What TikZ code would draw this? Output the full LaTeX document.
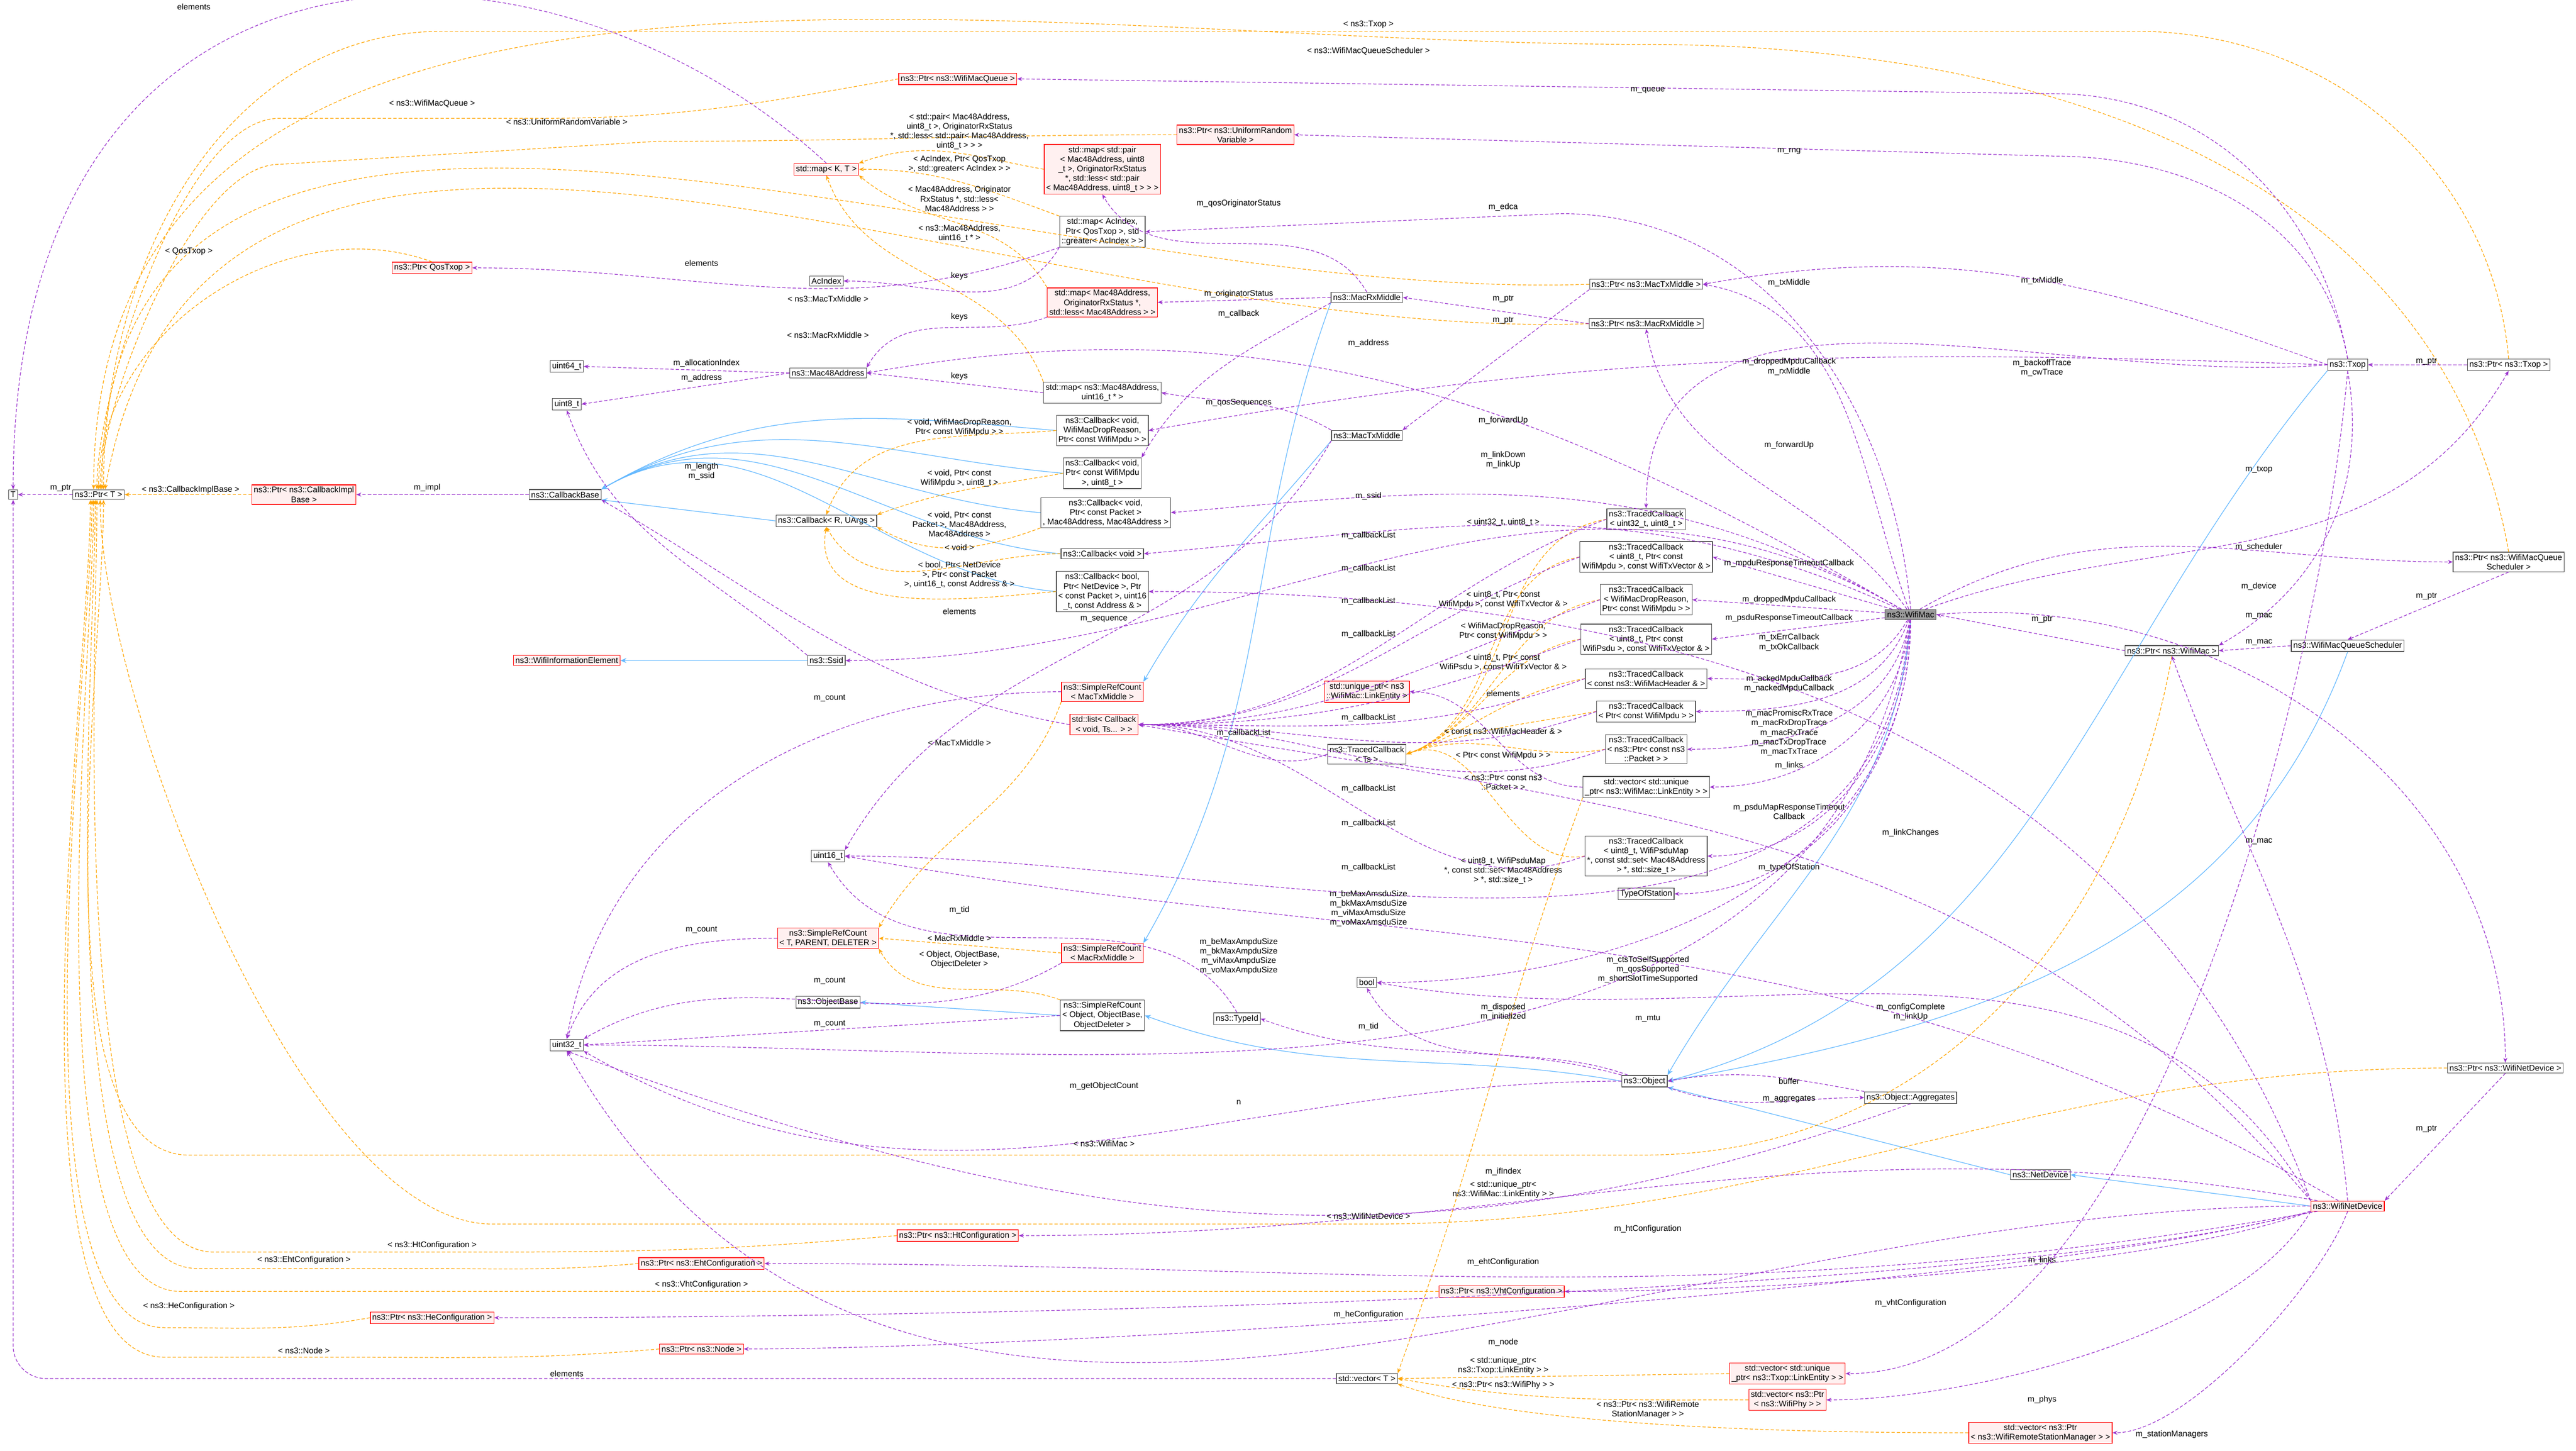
\documentclass[tikz,border=0pt]{standalone}
\usepackage{fontspec}
\setmainfont{Liberation Sans}
\usetikzlibrary{arrows.meta}
\definecolor{memclr}{RGB}{154,50,205}
\definecolor{tplclr}{RGB}{255,165,0}
\definecolor{inhclr}{RGB}{99,184,255}
\newcommand{\fsz}{\fontsize{1.25}{1.45}\selectfont}
\tikzset{
  cls/.style={draw=black!70, fill=white, line width=0.1pt, font=\fsz, inner sep=0.3pt, align=center},
  redcls/.style={cls, draw=red, fill=red!6},
  rootcls/.style={cls, fill=black!40},
  lbl/.style={font=\fsz, inner sep=0pt, align=center},
  mem/.style={memclr, dash pattern=on 0.5pt off 0.3pt, line width=0.1pt, -{Stealth[length=0.75pt,width=0.6pt]}},
  tpl/.style={mem, tplclr},
  inh/.style={inhclr, line width=0.1pt, -{Stealth[length=0.9pt,width=0.75pt]}}
}
\begin{document}
\begin{tikzpicture}[x=0.25pt,y=0.25pt]
  \useasboundingbox (0,0) rectangle (1568,-883);
  %%% left column: templates and basic types
  \node[cls] (T) at (8,-301) {T};
  \node[cls] (ptrT) at (60,-301) {ns3::Ptr< T >};
  \node[redcls] (ptrCbImpl) at (185,-301) {ns3::Ptr< ns3::CallbackImpl\\Base >};
  \node[cls] (cbBase) at (344,-301) {ns3::CallbackBase};
  \node[cls] (cbRU) at (503,-317) {ns3::Callback< R, UArgs >};
  \node[cls] (u64) at (345,-223) {uint64\_t};
  \node[cls] (u8) at (345,-246) {uint8\_t};
  \node[cls] (mac48) at (504,-227) {ns3::Mac48Address};
  \node[cls] (acIdx) at (503,-171) {AcIndex};
  \node[redcls] (ptrQos) at (263,-163) {ns3::Ptr< QosTxop >};
  \node[redcls] (mapKT) at (503,-103) {std::map< K, T >};
  \node[redcls] (ptrQueue) at (583,-48) {ns3::Ptr< ns3::WifiMacQueue >};
  \node[redcls] (ptrRng) at (752,-82) {ns3::Ptr< ns3::UniformRandom\\Variable >};
  \node[cls] (ssid) at (503,-402) {ns3::Ssid};
  \node[redcls] (wifiIE) at (345,-402) {ns3::WifiInformationElement};
  \node[cls] (u16) at (504,-521) {uint16\_t};
  \node[cls] (u32) at (345,-636) {uint32\_t};
  \node[redcls] (srcTPD) at (504,-571) {ns3::SimpleRefCount\\< T, PARENT, DELETER >};
  \node[cls] (objBase) at (504,-610) {ns3::ObjectBase};
  \node[redcls] (ptrHt) at (583,-752) {ns3::Ptr< ns3::HtConfiguration >};
  \node[redcls] (ptrEht) at (427,-769) {ns3::Ptr< ns3::EhtConfiguration >};
  \node[redcls] (ptrHe) at (263,-802) {ns3::Ptr< ns3::HeConfiguration >};
  \node[redcls] (ptrNode) at (427,-821) {ns3::Ptr< ns3::Node >};
  %%% middle column: maps, callbacks, ref counts
  \node[redcls] (mapPair) at (671,-103) {std::map< std::pair\\< Mac48Address, uint8\\\_t >, OriginatorRxStatus\\*, std::less< std::pair\\< Mac48Address, uint8\_t > > >};
  \node[cls] (mapAc) at (671,-141) {std::map< AcIndex,\\Ptr< QosTxop >, std\\::greater< AcIndex > >};
  \node[redcls] (mapOrig) at (671,-184) {std::map< Mac48Address,\\OriginatorRxStatus *,\\std::less< Mac48Address > >};
  \node[cls] (mapSeq) at (671,-239) {std::map< ns3::Mac48Address,\\uint16\_t * >};
  \node[cls] (cbDrop) at (671,-262) {ns3::Callback< void,\\WifiMacDropReason,\\Ptr< const WifiMpdu > >};
  \node[cls] (cbMpdu) at (671,-288) {ns3::Callback< void,\\Ptr< const WifiMpdu\\>, uint8\_t >};
  \node[cls] (cbPkt) at (673,-312) {ns3::Callback< void,\\Ptr< const Packet >\\, Mac48Address, Mac48Address >};
  \node[cls] (cbVoid) at (671,-337) {ns3::Callback< void >};
  \node[cls] (cbBool) at (671,-360) {ns3::Callback< bool,\\Ptr< NetDevice >, Ptr\\< const Packet >, uint16\\\_t, const Address \& >};
  \node[redcls] (srcTx) at (671,-421) {ns3::SimpleRefCount\\< MacTxMiddle >};
  \node[redcls] (lst) at (672,-441) {std::list< Callback\\< void, Ts... > >};
  \node[redcls] (srcRx) at (671,-580) {ns3::SimpleRefCount\\< MacRxMiddle >};
  \node[cls] (srcObj) at (671,-618) {ns3::SimpleRefCount\\< Object, ObjectBase,\\ObjectDeleter >};
  \node[cls] (typeId) at (753,-620) {ns3::TypeId};
  \node[cls] (rxMid) at (832,-181) {ns3::MacRxMiddle};
  \node[cls] (txMid) at (832,-265) {ns3::MacTxMiddle};
  \node[redcls] (uniq) at (832,-421) {std::unique\_ptr< ns3\\::WifiMac::LinkEntity >};
  \node[cls] (tcTs) at (832,-459) {ns3::TracedCallback\\< Ts >};
  \node[cls] (boolN) at (832,-598) {bool};
  \node[cls] (vecT) at (832,-839) {std::vector< T >};
  \node[redcls] (ptrVht) at (914,-786) {ns3::Ptr< ns3::VhtConfiguration >};
  %%% traced callbacks next to the mac
  \node[cls] (ptrTx) at (1002,-173) {ns3::Ptr< ns3::MacTxMiddle >};
  \node[cls] (ptrRx) at (1002,-197) {ns3::Ptr< ns3::MacRxMiddle >};
  \node[cls] (tcU32) at (1002,-316) {ns3::TracedCallback\\< uint32\_t, uint8\_t >};
  \node[cls] (tcMpduTx) at (1002,-339) {ns3::TracedCallback\\< uint8\_t, Ptr< const\\WifiMpdu >, const WifiTxVector \& >};
  \node[cls] (tcDrop) at (1002,-365) {ns3::TracedCallback\\< WifiMacDropReason,\\Ptr< const WifiMpdu > >};
  \node[cls] (tcPsdu) at (1002,-389) {ns3::TracedCallback\\< uint8\_t, Ptr< const\\WifiPsdu >, const WifiTxVector \& >};
  \node[cls] (tcHdr) at (1002,-413) {ns3::TracedCallback\\< const ns3::WifiMacHeader \& >};
  \node[cls] (tcMpdu) at (1002,-433) {ns3::TracedCallback\\< Ptr< const WifiMpdu > >};
  \node[cls] (tcPkt) at (1002,-456) {ns3::TracedCallback\\< ns3::Ptr< const ns3\\::Packet > >};
  \node[cls] (vecLink) at (1002,-479) {std::vector< std::unique\\\_ptr< ns3::WifiMac::LinkEntity > >};
  \node[cls] (tcMap) at (1002,-521) {ns3::TracedCallback\\< uint8\_t, WifiPsduMap\\*, const std::set< Mac48Address\\> *, std::size\_t >};
  \node[cls] (typeSt) at (1002,-544) {TypeOfStation};
  \node[cls] (object) at (1001,-658) {ns3::Object};
  \node[cls] (aggr) at (1163,-668) {ns3::Object::Aggregates};
  \node[redcls] (vecTxLink) at (1088,-836) {std::vector< std::unique\\\_ptr< ns3::Txop::LinkEntity > >};
  \node[redcls] (vecPhy) at (1088,-852) {std::vector< ns3::Ptr\\< ns3::WifiPhy > >};
  \node[redcls] (vecRsm) at (1242,-872) {std::vector< ns3::Ptr\\< ns3::WifiRemoteStationManager > >};
  %%% right part
  \node[rootcls] (wifiMac) at (1163,-374) {ns3::WifiMac};
  \node[cls] (txop) at (1429,-222) {ns3::Txop};
  \node[cls] (ptrTxop) at (1527,-222) {ns3::Ptr< ns3::Txop >};
  \node[cls] (ptrSched) at (1527,-342) {ns3::Ptr< ns3::WifiMacQueue\\Scheduler >};
  \node[cls] (ptrMac) at (1322,-396) {ns3::Ptr< ns3::WifiMac >};
  \node[cls] (sched) at (1429,-393) {ns3::WifiMacQueueScheduler};
  \node[cls] (ptrWND) at (1525,-650) {ns3::Ptr< ns3::WifiNetDevice >};
  \node[cls] (netDev) at (1242,-715) {ns3::NetDevice};
  \node[redcls] (wnd) at (1429,-734) {ns3::WifiNetDevice};

  %%% inheritance
  \foreach \c in {cbDrop,cbMpdu,cbPkt,cbVoid,cbBool}
    \draw[inh] (\c.west) to[out=175,in=30] (cbBase.north east);
  \draw[inh] (cbRU.west) -- (cbBase.south east);
  \draw[inh] (ssid) -- (wifiIE);
  \draw[inh] (srcObj.west) -- (objBase.east);
  \draw[inh] (object.west) to[out=170,in=-20] (srcObj.east);
  \draw[inh] (rxMid.south west) to[out=-110,in=60] (srcRx.north east);
  \draw[inh] (txMid.south west) to[out=-130,in=60] (srcTx.north east);
  \draw[inh] (wifiMac.south) to[out=-95,in=60] (object.north east);
  \draw[inh] (txop.south west) to[out=-130,in=15] (object.east);
  \draw[inh] (sched.south) to[out=-110,in=10] (object.east);
  \draw[inh] (netDev.west) -- (object.south east);
  \draw[inh] (wnd.west) -- (netDev.east);

  %%% templates on ns3::Ptr< T >
  \draw[tpl] (ptrTxop.north) to[out=95,in=0] (1300,-19) -- (270,-19) to[out=180,in=90] ([xshift=0.75pt]ptrT.north);
  \draw[tpl] (ptrSched.north) to[out=100,in=0] (1000,-27) to[out=180,in=90] ([xshift=-0.75pt]ptrT.north);
  \draw[tpl] (ptrQueue.west) to[out=190,in=0] (330,-72) -- (170,-72) to[out=180,in=90,looseness=0.6] ([xshift=-0.25pt]ptrT.north);
  \draw[tpl] (ptrRng.west) to[out=180,in=0] (400,-86) -- (170,-100) to[out=180,in=90,looseness=0.6] ([xshift=0.25pt]ptrT.north);
  \draw[tpl] (ptrQos.north) to[out=160,in=90] (ptrT.north);
  \draw[tpl] (ptrTx.west) to[out=182,in=90] ([xshift=0.5pt]ptrT.north);
  \draw[tpl] (ptrRx.west) to[out=182,in=80] ([xshift=1pt]ptrT.north);
  \draw[tpl] (ptrCbImpl) -- (ptrT);
  \draw[tpl] (ptrMac.south) to[out=-100,in=0] (1000,-703) -- (115,-703) to[out=180,in=-90,looseness=0.6] ([xshift=0.75pt]ptrT.south);
  \draw[tpl] (ptrWND.west) to[out=180,in=0] (833,-745) -- (300,-745) to[out=180,in=-90,looseness=0.6] ([xshift=0.25pt]ptrT.south);
  \draw[tpl] (ptrHt.west) to[out=185,in=0] (300,-762) -- (130,-762) to[out=180,in=-90,looseness=0.5] ([xshift=-0.25pt]ptrT.south);
  \draw[tpl] (ptrEht.west) to[out=185,in=0] (250,-772) -- (120,-772) to[out=180,in=-90,looseness=0.5] ([xshift=-0.5pt]ptrT.south);
  \draw[tpl] (ptrVht.west) -- (110,-786) to[out=180,in=-90,looseness=0.5] ([xshift=-0.75pt]ptrT.south);
  \draw[tpl] (ptrHe.west) to[out=190,in=0] (100,-808) to[out=180,in=-90,looseness=0.5] ([xshift=-1pt]ptrT.south);
  \draw[tpl] (ptrNode.west) to[out=185,in=0] (200,-826) -- (100,-826) to[out=180,in=-90,looseness=0.5] ([xshift=-1.25pt]ptrT.south);
  %%% other templates
  \draw[tpl] (mapPair.west) to[out=170,in=20] (mapKT.north east);
  \draw[tpl] (mapAc.north west) to[out=160,in=0] (mapKT.east);
  \draw[tpl] (mapOrig.north west) to[out=120,in=-40] (mapKT.south east);
  \draw[tpl] (mapSeq.north west) to[out=110,in=-70] (mapKT.south);
  \draw[tpl] (cbDrop.west) to[out=185,in=70] (cbRU.north);
  \draw[tpl] (cbMpdu.west) to[out=190,in=20] (cbRU.north east);
  \draw[tpl] (cbPkt.south west) to[out=200,in=-30] (cbRU.south east);
  \draw[tpl] (cbVoid.west) to[out=180,in=-60] (cbRU.south);
  \draw[tpl] (cbBool.west) to[out=185,in=-100] (cbRU.south);
  \foreach \c in {tcU32,tcMpduTx,tcDrop,tcPsdu,tcHdr,tcMpdu,tcPkt,tcMap}
    \draw[tpl] (\c.west) to[out=190,in=20] (tcTs.east);
  \draw[tpl] (srcRx.west) -- (srcTPD.east);
  \draw[tpl] (srcTx.south west) to[out=-110,in=60] (srcTPD.north east);
  \draw[tpl] (srcObj.north west) to[out=160,in=-60] (srcTPD.south east);
  \draw[tpl] (vecLink.south west) to[out=-110,in=70] (vecT.north east);
  \draw[tpl] (vecTxLink.west) -- (vecT.east);
  \draw[tpl] (vecPhy.west) to[out=180,in=-10] (vecT.east);
  \draw[tpl] (vecRsm.west) to[out=180,in=-20,looseness=0.6] (vecT.south east);

  %%% members
  \draw[mem] (ptrT) -- (T);
  \draw[mem] (mapKT.north) .. controls (330,60) and (8,60) .. (T.north);
  \draw[mem, rounded corners=5pt] (vecT.west) -| (T.south);
  \draw[mem] (cbBase) -- (ptrCbImpl);
  \draw[mem] (mac48.west) -- (u64.east);
  \draw[mem] (mac48.west) -- (u8.east);
  \draw[mem] (ssid.north west) to[out=140,in=-70] (u8.south);
  \draw[mem] (mapAc.south west) to[out=200,in=0] (ptrQos.east);
  \draw[mem] (mapAc.south west) to[out=-120,in=0] (acIdx.east);
  \draw[mem] (mapOrig.south west) to[out=200,in=60] (mac48.north east);
  \draw[mem] (mapSeq.west) -- (mac48.east);
  \draw[mem] (wifiMac) to[out=150,in=10] (mac48.east);
  \draw[mem] (txop.north) to[out=100,in=0] (1250,-57) -- (ptrQueue.east);
  \draw[mem] (txop.north) to[out=100,in=0] (1250,-95) -- (ptrRng.east);
  \draw[mem] (wifiMac.north) to[out=95,in=0] (950,-130) -- (mapAc.east);
  \draw[mem] (rxMid.north) to[out=120,in=-60] (mapPair.south);
  \draw[mem] (rxMid.west) -- (mapOrig.east);
  \draw[mem] (rxMid.south west) to[out=-150,in=60] (cbMpdu.north east);
  \draw[mem] (txMid.north west) to[out=150,in=-10] (mapSeq.east);
  \draw[mem] (txop.west) to[out=178,in=10] (cbDrop.east);
  \draw[mem] (wifiMac) to[out=150,in=5] (cbPkt.east);
  \draw[mem] (wifiMac) to[out=155,in=5] (cbVoid.east);
  \draw[mem] (wnd.north west) to[out=110,in=0] (cbBool.east);
  \draw[mem] (wifiMac) to[out=150,in=0] (ssid.east);
  \draw[mem] (txMid.south west) to[out=-120,in=60] (u16.north east);
  \draw[mem] (wifiMac) to[out=110,in=-10] (ptrTx.east);
  \draw[mem] (txop.west) to[out=160,in=10] (ptrTx.east);
  \draw[mem] (wifiMac) to[out=125,in=-80] (ptrRx.south);
  \draw[mem] (ptrRx.west) -- (rxMid.east);
  \draw[mem] (ptrTx.south west) -- (txMid.north east);
  \draw[mem] (txop.west) to[out=185,in=90] (tcU32.north);
  \draw[mem] (wifiMac) -- (tcMpduTx.east);
  \draw[mem] (wifiMac) -- (tcDrop.east);
  \draw[mem] (wifiMac) -- (tcPsdu.east);
  \draw[mem] (wifiMac) to[out=-120,in=0] (tcHdr.east);
  \draw[mem] (wifiMac) to[out=-110,in=0] (tcMpdu.east);
  \draw[mem] (wifiMac) to[out=-100,in=0] (tcPkt.east);
  \draw[mem] (wifiMac) to[out=-95,in=0] (vecLink.east);
  \draw[mem] (wifiMac) to[out=-92,in=0] (tcMap.east);
  \draw[mem] (wifiMac) to[out=-90,in=0] (typeSt.east);
  \draw[mem] (wifiMac) to[out=-95,in=0] (u16.east);
  \draw[mem] (wifiMac) to[out=-100,in=0] (u32.east);
  \draw[mem] (wifiMac) to[out=-90,in=0] (boolN.east);
  \draw[mem] (object) to[out=160,in=-60] (boolN.south);
  \draw[mem] (object) to[out=165,in=-20] (typeId.east);
  \draw[mem] (wnd) to[out=150,in=-10] (u16.east);
  \draw[mem] (wnd.north west) to[out=120,in=-10] (boolN.east);
  \draw[mem] (object.south east) to[out=-20,in=180] (aggr.west);
  \draw[mem] (aggr.north west) to[out=170,in=10] (object.east);
  \draw[mem] (object.west) to[out=180,in=-30] (u32.south east);
  \draw[mem] (aggr.south) to[out=-160,in=-20] (u32.south);
  \draw[mem] (wnd.west) to[out=180,in=-60] (u32.south);
  \draw[mem] (srcTPD.west) to[out=180,in=70] (u32.north);
  \draw[mem] (srcRx.south west) to[out=-150,in=30] (u32.north east);
  \draw[mem] (srcObj.west) -- (u32.east);
  \draw[mem] (srcTx.west) to[out=180,in=80] (u32.north);
  \draw[mem] (typeId.north) to[out=120,in=-60] (u16.south);
  \foreach \c in {tcU32,tcMpduTx,tcDrop,tcPsdu,tcHdr,tcMpdu,tcPkt,tcMap,tcTs}
    \draw[mem] (\c.west) to[out=200,in=0] (lst.east);
  \draw[mem] (wnd.north west) to[out=130,in=-10] (lst.east);
  \draw[mem] (vecLink.west) to[out=180,in=0] (uniq.east);
  \draw[mem] (lst.west) to[out=170,in=-30] (cbBase.south east);
  \draw[mem] (ptrTxop.west) -- (txop.east);
  \draw[mem] (wifiMac) to[out=20,in=-120] (ptrTxop.south);
  \draw[mem] (wifiMac) to[out=30,in=180] (ptrSched.west);
  \draw[mem] (ptrSched.south) -- (sched.north);
  \draw[mem] (sched.west) -- (ptrMac.east);
  \draw[mem] (txop.south) to[out=-80,in=30] (ptrMac.north east);
  \draw[mem] (ptrMac.west) -- (wifiMac.east);
  \draw[mem] (wifiMac.east) to[out=5,in=90] (ptrWND.north);
  \draw[mem] (ptrWND.south) -- (wnd.north east);
  \draw[mem] (wnd.north) to[out=95,in=-70] (ptrMac.south);
  \draw[mem] (wnd) to[out=170,in=0] (ptrHt.east);
  \draw[mem] (wnd) to[out=190,in=0] (ptrEht.east);
  \draw[mem] (wnd.south west) to[out=-160,in=0,looseness=0.6] (ptrVht.east);
  \draw[mem] (wnd.south west) to[out=-165,in=0,looseness=0.5] (ptrHe.east);
  \draw[mem] (wnd.south west) to[out=-165,in=0,looseness=0.5] (ptrNode.east);
  \draw[mem] (wnd.south west) to[out=-120,in=0,looseness=0.7] (vecPhy.east);
  \draw[mem] (wnd.south) to[out=-110,in=0,looseness=0.6] (vecRsm.east);
  \draw[mem] (txop.south) to[out=-95,in=0,looseness=0.7] (vecTxLink.east);

  %%% edge labels
  \node[lbl] (lTptr) at (37,-297) {m\_ptr};
  \node[lbl] (lMapEl) at (118,-4) {elements};
  \node[lbl] (lVecEl) at (345,-836) {elements};
  \node[lbl] (lImpl) at (260,-297) {m\_impl};
  \node[lbl] (lAlloc) at (430,-221) {m\_allocationIndex};
  \node[lbl] (lAddr) at (427,-230) {m\_address};
  \node[lbl] (lSsidLen) at (427,-287) {m\_length\\m\_ssid};
  \node[lbl] (lQosEl) at (427,-160) {elements};
  \node[lbl] (lKeys1) at (584,-168) {keys};
  \node[lbl] (lKeys2) at (584,-193) {keys};
  \node[lbl] (lKeys3) at (584,-229) {keys};
  \node[lbl] (lTQueue) at (263,-63) {< ns3::WifiMacQueue >};
  \node[lbl] (lTRng) at (345,-74) {< ns3::UniformRandomVariable >};
  \node[lbl] (lTQos) at (115,-153) {< QosTxop >};
  \node[lbl] (lTTx) at (504,-182) {< ns3::MacTxMiddle >};
  \node[lbl] (lTRx) at (504,-204) {< ns3::MacRxMiddle >};
  \node[lbl] (lTImpl) at (116,-298) {< ns3::CallbackImplBase >};
  \node[lbl] (lTPair) at (584,-80) {< std::pair< Mac48Address,\\uint8\_t >, OriginatorRxStatus\\*, std::less< std::pair< Mac48Address,\\uint8\_t > > >};
  \node[lbl] (lTAc) at (584,-100) {< AcIndex, Ptr< QosTxop\\>, std::greater< AcIndex > >};
  \node[lbl] (lTOrig) at (584,-121) {< Mac48Address, Originator\\RxStatus *, std::less<\\Mac48Address > >};
  \node[lbl] (lTSeq) at (584,-142) {< ns3::Mac48Address,\\uint16\_t * >};
  \node[lbl] (lTCbDrop) at (584,-260) {< void, WifiMacDropReason,\\Ptr< const WifiMpdu > >};
  \node[lbl] (lTCbMpdu) at (584,-291) {< void, Ptr< const\\WifiMpdu >, uint8\_t >};
  \node[lbl] (lTCbPkt) at (584,-319) {< void, Ptr< const\\Packet >, Mac48Address,\\Mac48Address >};
  \node[lbl] (lTCbVoid) at (584,-333) {< void >};
  \node[lbl] (lTCbBool) at (584,-350) {< bool, Ptr< NetDevice\\>, Ptr< const Packet\\>, uint16\_t, const Address \& >};
  \node[lbl] (lLstEl) at (584,-372) {elements};
  \node[lbl] (lSeq) at (672,-377) {m\_sequence};
  \node[lbl] (lCntTx) at (505,-425) {m\_count};
  \node[lbl] (lQosOrig) at (754,-124) {m\_qosOriginatorStatus};
  \node[lbl] (lOrig) at (754,-179) {m\_originatorStatus};
  \node[lbl] (lCb) at (754,-191) {m\_callback};
  \node[lbl] (lQosSeq) at (754,-245) {m\_qosSequences};
  \node[lbl] (lCbl1) at (833,-326) {m\_callbackList};
  \node[lbl] (lCbl2) at (833,-346) {m\_callbackList};
  \node[lbl] (lCbl3) at (833,-366) {m\_callbackList};
  \node[lbl] (lCbl4) at (833,-386) {m\_callbackList};
  \node[lbl] (lCbl5) at (833,-437) {m\_callbackList};
  \node[lbl] (lCbl6) at (757,-446) {m\_callbackList};
  \node[lbl] (lCbl7) at (833,-480) {m\_callbackList};
  \node[lbl] (lCbl8) at (833,-501) {m\_callbackList};
  \node[lbl] (lCbl9) at (833,-528) {m\_callbackList};
  \node[lbl] (lTTxop) at (833,-15) {< ns3::Txop >};
  \node[lbl] (lTSched) at (833,-31) {< ns3::WifiMacQueueScheduler >};
  \node[lbl] (lQueue) at (1003,-55) {m\_queue};
  \node[lbl] (lRng) at (1089,-92) {m\_rng};
  \node[lbl] (lEdca) at (915,-126) {m\_edca};
  \node[lbl] (lTxMid1) at (1089,-172) {m\_txMiddle};
  \node[lbl] (lTxMid2) at (1243,-171) {m\_txMiddle};
  \node[lbl] (lPtrRx) at (915,-182) {m\_ptr};
  \node[lbl] (lPtrTx) at (915,-195) {m\_ptr};
  \node[lbl] (lMacAddr) at (833,-209) {m\_address};
  \node[lbl] (lDrop1) at (1089,-220) {m\_droppedMpduCallback};
  \node[lbl] (lRxMid) at (1089,-226) {m\_rxMiddle};
  \node[lbl] (lBackoff) at (1243,-224) {m\_backoffTrace\\m\_cwTrace};
  \node[lbl] (lPtrTxop) at (1477,-220) {m\_ptr};
  \node[lbl] (lFwd1) at (915,-256) {m\_forwardUp};
  \node[lbl] (lFwd2) at (1089,-271) {m\_forwardUp};
  \node[lbl] (lLink) at (915,-280) {m\_linkDown\\m\_linkUp};
  \node[lbl] (lTxop) at (1375,-286) {m\_txop};
  \node[lbl] (lSsid) at (833,-302) {m\_ssid};
  \node[lbl] (lTU32) at (915,-318) {< uint32\_t, uint8\_t >};
  \node[lbl] (lSched) at (1375,-333) {m\_scheduler};
  \node[lbl] (lMpduTo) at (1089,-343) {m\_mpduResponseTimeoutCallback};
  \node[lbl] (lDevice) at (1375,-357) {m\_device};
  \node[lbl] (lPtrSched) at (1477,-363) {m\_ptr};
  \node[lbl] (lTMpduTx) at (915,-365) {< uint8\_t, Ptr< const\\WifiMpdu >, const WifiTxVector \& >};
  \node[lbl] (lDrop2) at (1089,-365) {m\_droppedMpduCallback};
  \node[lbl] (lPsduTo) at (1089,-376) {m\_psduResponseTimeoutCallback};
  \node[lbl] (lPtrMac) at (1243,-377) {m\_ptr};
  \node[lbl] (lMac1) at (1375,-375) {m\_mac};
  \node[lbl] (lMac2) at (1375,-391) {m\_mac};
  \node[lbl] (lTDrop) at (915,-384) {< WifiMacDropReason,\\Ptr< const WifiMpdu > >};
  \node[lbl] (lTxErr) at (1089,-391) {m\_txErrCallback\\m\_txOkCallback};
  \node[lbl] (lTPsdu) at (915,-403) {< uint8\_t, Ptr< const\\WifiPsdu >, const WifiTxVector \& >};
  \node[lbl] (lAcked) at (1089,-416) {m\_ackedMpduCallback\\m\_nackedMpduCallback};
  \node[lbl] (lUniqEl) at (915,-422) {elements};
  \node[lbl] (lTrace) at (1089,-446) {m\_macPromiscRxTrace\\m\_macRxDropTrace\\m\_macRxTrace\\m\_macTxDropTrace\\m\_macTxTrace};
  \node[lbl] (lTHdr) at (915,-445) {< const ns3::WifiMacHeader \& >};
  \node[lbl] (lTMpdu) at (915,-460) {< Ptr< const WifiMpdu > >};
  \node[lbl] (lLinks1) at (1089,-466) {m\_links};
  \node[lbl] (lTPkt) at (915,-476) {< ns3::Ptr< const ns3\\::Packet > >};
  \node[lbl] (lMapTo) at (1089,-494) {m\_psduMapResponseTimeout\\Callback};
  \node[lbl] (lLinkCh) at (1163,-507) {m\_linkChanges};
  \node[lbl] (lMac3) at (1375,-512) {m\_mac};
  \node[lbl] (lTMap) at (915,-530) {< uint8\_t, WifiPsduMap\\*, const std::set< Mac48Address\\> *, std::size\_t >};
  \node[lbl] (lTypeSt) at (1089,-528) {m\_typeOfStation};
  \node[lbl] (lAmsdu) at (833,-553) {m\_beMaxAmsduSize\\m\_bkMaxAmsduSize\\m\_viMaxAmsduSize\\m\_voMaxAmsduSize};
  \node[lbl] (lTid1) at (584,-554) {m\_tid};
  \node[lbl] (lCntTPD) at (427,-566) {m\_count};
  \node[lbl] (lTSrcRx) at (584,-571) {< MacRxMiddle >};
  \node[lbl] (lTSrcTx) at (584,-452) {< MacTxMiddle >};
  \node[lbl] (lTSrcObj) at (584,-584) {< Object, ObjectBase,\\ObjectDeleter >};
  \node[lbl] (lAmpdu) at (754,-582) {m\_beMaxAmpduSize\\m\_bkMaxAmpduSize\\m\_viMaxAmpduSize\\m\_voMaxAmpduSize};
  \node[lbl] (lCts) at (1003,-590) {m\_ctsToSelfSupported\\m\_qosSupported\\m\_shortSlotTimeSupported};
  \node[lbl] (lCntRx) at (505,-597) {m\_count};
  \node[lbl] (lDisp) at (915,-616) {m\_disposed\\m\_initialized};
  \node[lbl] (lMtu) at (1003,-620) {m\_mtu};
  \node[lbl] (lConf) at (1163,-616) {m\_configComplete\\m\_linkUp};
  \node[lbl] (lCntObj) at (505,-623) {m\_count};
  \node[lbl] (lTid2) at (833,-625) {m\_tid};
  \node[lbl] (lBuf) at (1089,-658) {buffer};
  \node[lbl] (lGetCnt) at (672,-661) {m\_getObjectCount};
  \node[lbl] (lAggr) at (1089,-669) {m\_aggregates};
  \node[lbl] (lN) at (754,-671) {n};
  \node[lbl] (lPtrWnd) at (1477,-687) {m\_ptr};
  \node[lbl] (lTMac) at (672,-696) {< ns3::WifiMac >};
  \node[lbl] (lIf) at (915,-713) {m\_ifIndex};
  \node[lbl] (lTVecLink) at (915,-724) {< std::unique\_ptr<\\ns3::WifiMac::LinkEntity > >};
  \node[lbl] (lTWnd) at (833,-740) {< ns3::WifiNetDevice >};
  \node[lbl] (lHt) at (1003,-748) {m\_htConfiguration};
  \node[lbl] (lTHt) at (263,-758) {< ns3::HtConfiguration >};
  \node[lbl] (lEht) at (915,-768) {m\_ehtConfiguration};
  \node[lbl] (lTEht) at (185,-767) {< ns3::EhtConfiguration >};
  \node[lbl] (lLinks2) at (1243,-767) {m\_links};
  \node[lbl] (lTVht) at (427,-782) {< ns3::VhtConfiguration >};
  \node[lbl] (lVht) at (1163,-793) {m\_vhtConfiguration};
  \node[lbl] (lTHe) at (115,-795) {< ns3::HeConfiguration >};
  \node[lbl] (lHe) at (833,-800) {m\_heConfiguration};
  \node[lbl] (lNode) at (915,-817) {m\_node};
  \node[lbl] (lTNode) at (185,-822) {< ns3::Node >};
  \node[lbl] (lTVecTx) at (915,-831) {< std::unique\_ptr<\\ns3::Txop::LinkEntity > >};
  \node[lbl] (lTVecPhy) at (915,-843) {< ns3::Ptr< ns3::WifiPhy > >};
  \node[lbl] (lPhys) at (1243,-852) {m\_phys};
  \node[lbl] (lTVecRsm) at (1003,-858) {< ns3::Ptr< ns3::WifiRemote\\StationManager > >};
  \node[lbl] (lRsm) at (1322,-873) {m\_stationManagers};
\end{tikzpicture}
\end{document}
